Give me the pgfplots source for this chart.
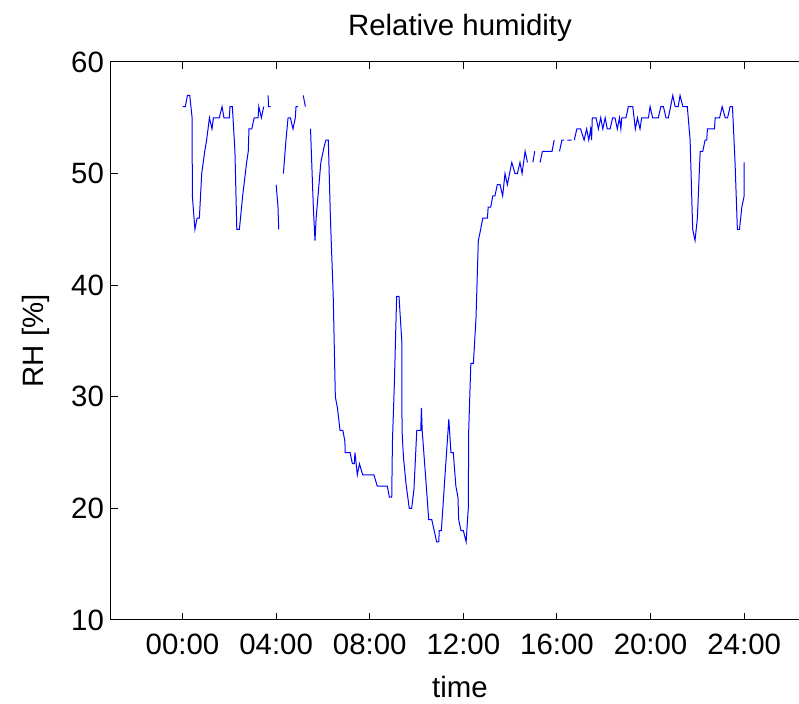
\documentclass[border=0pt]{standalone}
\usepackage{pgfplots}
\pgfplotsset{compat=1.18}
\usepackage{fontspec}
\setmainfont{Liberation Sans}
\definecolor{mblue}{RGB}{0,0,255}
\begin{document}
\begin{tikzpicture}
\begin{axis}[
  at={(0,0)}, anchor=south west,
  scale only axis,
  width=349pt, height=279pt,
  xmin=-3.056, xmax=26.77,
  ymin=10, ymax=60,
  xtick={0,4,8,12,16,20,24},
  xticklabels={00:00,04:00,08:00,12:00,16:00,20:00,24:00},
  ytick={10,20,30,40,50,60},
  /pgf/number format/assume math mode=true,
  tick label style={font=\fontsize{14.7}{17}\selectfont, black},
  xticklabel style={yshift=-3.4pt},
  label style={font=\fontsize{14.7}{17}\selectfont},
  title style={font=\fontsize{14.7}{17}\selectfont},
  tick align=inside,
  major tick length=3.5pt,
  tick style={black, line width=0.5pt},
  axis line style={black, line width=0.5pt},
  xlabel={time},
  xlabel style={at={([yshift=-38.8pt]axis description cs:0.5,0)}, anchor=base},
  ylabel={RH [\%]},
  ylabel style={at={([xshift=-37.5pt]axis description cs:0,0.5)}, anchor=center, rotate=0},
  title={Relative humidity},
  title style={at={([yshift=7pt]axis description cs:0.5,1)}, anchor=base},
  unbounded coords=jump,
]
\addplot[mblue, line width=0.5pt] coordinates {
(0.00,56) (0.12,56) (0.21,57) (0.31,57) (0.41,55) (0.42,48) (0.53,45) (0.62,46) (0.72,46)
(0.82,50) (0.95,52) (1.03,53) (1.15,55) (1.26,54) (1.32,55) (1.57,55) (1.69,56) (1.77,55)
(2.00,55) (2.03,56) (2.13,56) (2.24,52) (2.32,45) (2.43,45) (2.57,48) (2.74,51) (2.81,52)
(2.84,54) (2.96,54) (3.06,55) (3.23,55) (3.26,56) (3.37,55) (3.47,56)
(3.55,nan)
(3.66,57) (3.67,56) (3.77,56)
(3.88,nan)
(4.00,49) (4.08,47) (4.11,45)
(4.20,nan)
(4.31,50) (4.42,53) (4.51,55) (4.61,55) (4.72,54) (4.82,55) (4.85,56) (4.94,56)
(5.05,nan)
(5.16,57) (5.25,56)
(5.35,nan)
(5.47,54) (5.59,47) (5.66,44) (5.71,46) (5.91,51) (6.06,52.5) (6.13,53) (6.23,53) (6.32,46)
(6.44,39) (6.53,30) (6.62,29) (6.73,27) (6.85,27) (6.94,26) (6.95,25) (7.16,25) (7.26,24)
(7.34,24) (7.37,25) (7.47,23) (7.56,24) (7.70,23) (8.18,23) (8.32,22) (8.75,22) (8.84,21)
(8.94,21) (8.97,26) (9.05,31) (9.15,39) (9.25,39) (9.37,35) (9.38,27) (9.44,24.6) (9.55,22.2)
(9.69,20) (9.79,20) (9.89,21.7) (10.01,27) (10.18,27) (10.21,29) (10.24,27) (10.41,22.2)
(10.52,19) (10.65,19) (10.86,17) (10.95,17) (10.97,18) (11.06,18) (11.25,24) (11.38,28)
(11.47,25) (11.57,25) (11.68,22) (11.77,21) (11.80,19) (11.90,18) (12.00,18) (12.12,17)
(12.21,20) (12.23,27) (12.32,33) (12.43,33) (12.54,37) (12.64,44) (12.74,45) (12.83,46)
(13.03,46) (13.06,47) (13.17,47) (13.26,48) (13.35,48) (13.45,49) (13.57,49) (13.68,48)
(13.78,50) (13.88,49) (14.07,51) (14.21,50) (14.31,50) (14.42,51) (14.51,50) (14.64,52)
(14.74,51)
(14.85,nan)
(14.97,51) (15.05,52)
(15.15,nan)
(15.28,51) (15.38,52) (15.59,52) (15.79,52) (15.88,53)
(16.00,nan)
(16.11,52) (16.21,53) (16.30,53)
(16.37,nan)
(16.44,53) (16.63,53)
(16.68,nan)
(16.74,53) (16.85,54) (17.01,54) (17.16,53) (17.27,54) (17.36,53) (17.44,54) (17.48,53)
(17.51,55) (17.67,55) (17.77,54) (17.87,55) (17.96,54) (18.06,55) (18.15,54) (18.27,54)
(18.38,55) (18.48,55) (18.58,54) (18.67,55) (18.73,54) (18.77,55) (18.95,55) (19.05,56)
(19.24,56) (19.35,54) (19.44,55) (19.55,54) (19.62,55) (19.91,55) (19.98,56) (20.09,55)
(20.33,55) (20.44,56) (20.55,56) (20.66,55) (20.76,55) (20.95,57) (21.05,56) (21.18,56)
(21.26,57) (21.38,56) (21.57,56) (21.69,53) (21.80,45) (21.90,44) (22.00,46) (22.12,52)
(22.23,52) (22.33,53) (22.40,53) (22.43,54) (22.73,54) (22.76,55) (22.95,55) (23.06,56)
(23.19,55) (23.29,55) (23.40,56) (23.50,56) (23.61,51) (23.71,45) (23.80,45) (23.90,47)
(24.00,48) (24.00,51)
};
\end{axis}
\pgfresetboundingbox
\path[use as bounding box] (-55.5pt,-42pt) rectangle (344pt,310pt);
\end{tikzpicture}
\end{document}
